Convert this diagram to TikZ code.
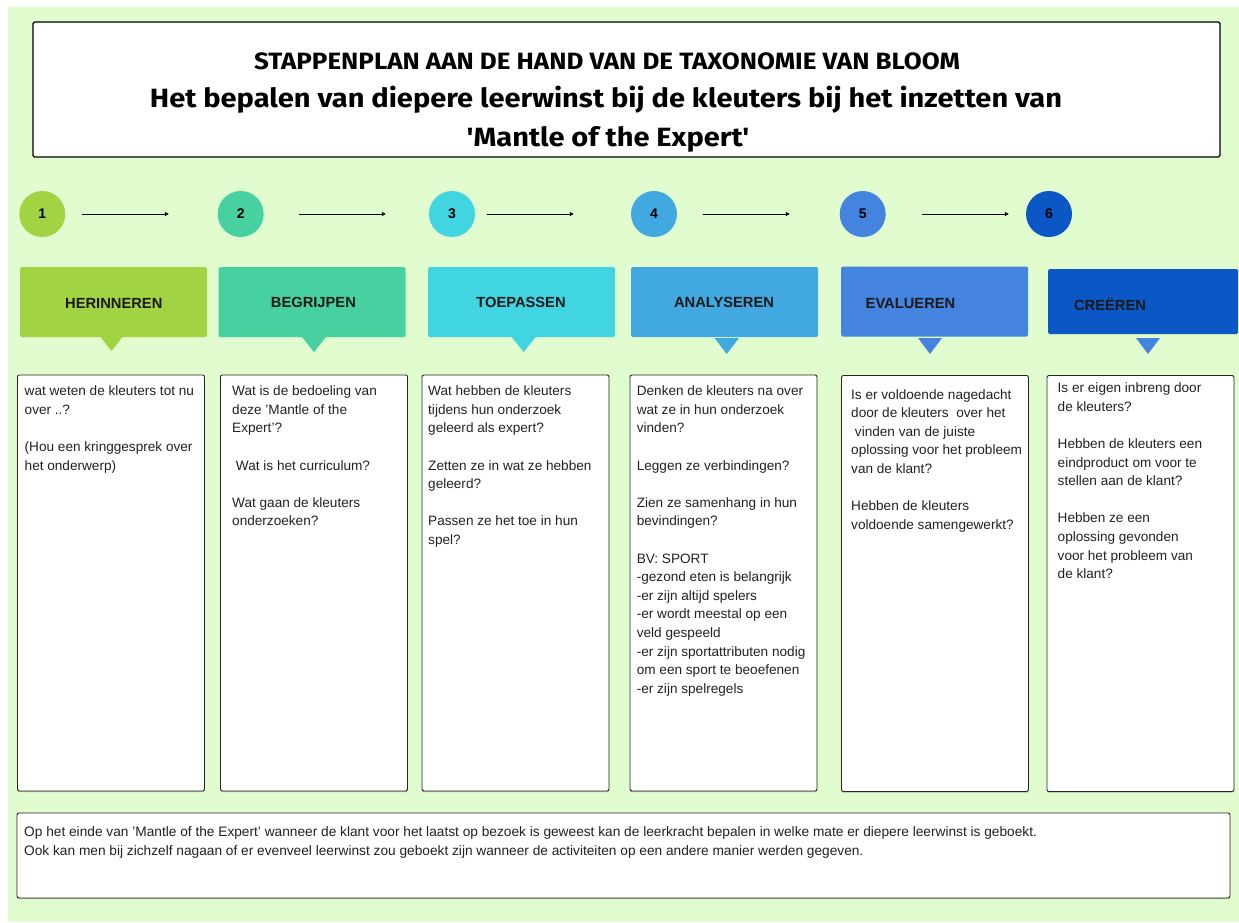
\documentclass[tikz,border=0pt]{standalone}
\usepackage{fontspec}
\setmainfont{Liberation Sans}
\newfontfamily\titlefont[FakeStretch=1.1]{Fira Sans}
\usepackage{xcolor}
\usetikzlibrary{arrows.meta}
\usetikzlibrary{shadows}
\definecolor{bgGreen}{HTML}{E1FCCE}
\definecolor{stepA}{HTML}{A1D343}
\definecolor{stepB}{HTML}{47D1A1}
\definecolor{stepC}{HTML}{41D4E1}
\definecolor{stepD}{HTML}{41A8E0}
\definecolor{stepE}{HTML}{4484DF}
\definecolor{stepF}{HTML}{0B57C5}
\definecolor{boxText}{HTML}{222222}

\begin{document}
\begin{tikzpicture}[x=1pt,y=1pt,yscale=-1,xscale=1,
  stepnum/.style={circle,minimum size=46pt,inner sep=0pt,font=\fontsize{14}{14}\selectfont\bfseries},
  banner/.style={rounded corners=1.5pt,minimum width=187pt,minimum height=70pt,inner sep=0pt},
  bannerlabel/.style={inner sep=0pt,font=\fontsize{14.7}{15}\selectfont\bfseries,text=black!90},
  qbox/.style={draw=black!85,fill=white,rounded corners=2pt,line width=0.9pt,minimum width=187pt,minimum height=416pt,inner sep=0pt,
    drop shadow={shadow xshift=0pt,shadow yshift=-1.2pt,fill=black,opacity=0.25}},
  qtext/.style={anchor=north west,inner sep=0pt,align=left,text=boxText,font=\fontsize{13.6}{18.6}\selectfont},
  flow/.style={line width=1pt,-{Triangle[length=4pt,width=4pt]}}]
\useasboundingbox (0,0) rectangle (1239,922);
\fill[white] (0,0) rectangle (1239,922);
%Shape: Background
\fill[bgGreen] (8,7) rectangle (1239,922);

%Shape: Title box
\node[draw=black,fill=white,line width=1.2pt,rounded corners=1.5pt,minimum width=1187pt,minimum height=135pt,inner sep=0pt] (titlebox) at (626.5,89.5) {};
% Text Node
\node[anchor=base,inner sep=0pt,font=\titlefont\bfseries\fontsize{23.6}{24}\selectfont] (title1) at (607,69) {STAPPENPLAN AAN DE HAND VAN DE TAXONOMIE VAN BLOOM};
% Text Node
\node[anchor=base,inner sep=0pt,font=\titlefont\bfseries\fontsize{26.4}{27}\selectfont] (title2) at (606,107) {Het bepalen van diepere leerwinst bij de kleuters bij het inzetten van};
% Text Node
\node[anchor=base,inner sep=0pt,font=\titlefont\bfseries\fontsize{26.4}{27}\selectfont] (title3) at (608,146) {'Mantle of the Expert'};

%Shape: Circles
\node[stepnum,fill=stepA] (c1) at (42.3,214) {1};
\node[stepnum,fill=stepB] (c2) at (240.7,214) {2};
\node[stepnum,fill=stepC] (c3) at (452,214) {3};
\node[stepnum,fill=stepD] (c4) at (654,214) {4};
\node[stepnum,fill=stepE] (c5) at (862.7,214) {5};
\node[stepnum,fill=stepF] (c6) at (1049,214) {6};

%Straight Lines
\draw[flow,shorten <=16.7pt,shorten >=48.7pt] (c1) -- (c2);
\draw[flow,shorten <=35.3pt,shorten >=43pt] (c2) -- (c3);
\draw[flow,shorten <=12pt,shorten >=57pt] (c3) -- (c4);
\draw[flow,shorten <=26pt,shorten >=49.7pt] (c4) -- (c5);
\draw[flow,shorten <=36pt,shorten >=17pt] (c5) -- (c6);

%Shape: Banners
\node[banner,fill=stepA] (ban1) at (113.5,302) {};
\node[banner,fill=stepB] (ban2) at (312,302) {};
\node[banner,fill=stepC] (ban3) at (521.5,302) {};
\node[banner,fill=stepD] (ban4) at (724.5,302) {};
\node[banner,fill=stepE] (ban5) at (934.5,301.5) {};
\node[banner,fill=stepF,minimum height=65pt,minimum width=190pt] (ban6) at (1143,301.5) {};
%Shape: Pointers
\fill[stepA] (100.5,337) -- (122.5,337) -- (111.5,351) -- cycle;
\fill[stepB] (302,337) -- (326,337) -- (314,352) -- cycle;
\fill[stepC] (511.7,337) -- (535.7,337) -- (523.7,352) -- cycle;
\fill[stepD] (714.5,338) -- (739,338) -- (726.7,354) -- cycle;
\fill[stepE] (918,338) -- (942,338) -- (930,354) -- cycle;
\fill[stepE] (1136,338) -- (1160,338) -- (1148,354) -- cycle;
% Text Node
\node[bannerlabel] (lab1) at (113.8,303) {HERINNEREN};
\node[bannerlabel] (lab2) at (313.4,302) {BEGRIJPEN};
\node[bannerlabel] (lab3) at (521,302) {TOEPASSEN};
\node[bannerlabel] (lab4) at (724,302) {ANALYSEREN};
\node[bannerlabel] (lab5) at (910.5,304) {EVALUEREN};
\node[bannerlabel] (lab6) at (1110,304) {CREËREN};

%Shape: Question boxes
\node[qbox] (box1) at (111,583) {};
\node[qbox] (box2) at (314,583) {};
\node[qbox] (box3) at (515.5,583) {};
\node[qbox] (box4) at (723.5,583) {};
\node[qbox] (box5) at (935,583.5) {};
\node[qbox] (box6) at (1140.5,583.5) {};

% Text Node
\node[qtext] (q1) at (24.5,385.6) {wat weten de kleuters tot nu\\over ..?\\[18.6pt](Hou een kringgesprek over\\het onderwerp)};
% Text Node
\node[qtext] (q2) at (232,385.6) {Wat is de bedoeling van\\deze 'Mantle of the\\Expert'?\\[18.6pt]\ Wat is het curriculum?\\[18.6pt]Wat gaan de kleuters\\onderzoeken?};
% Text Node
\node[qtext] (q3) at (428,385.6) {Wat hebben de kleuters\\tijdens hun onderzoek\\geleerd als expert?\\[18.6pt]Zetten ze in wat ze hebben\\geleerd?\\[18.6pt]Passen ze het toe in hun\\spel?};
% Text Node
\node[qtext] (q4) at (636.6,385.6) {Denken de kleuters na over\\wat ze in hun onderzoek\\vinden?\\[18.6pt]Leggen ze verbindingen?\\[18.6pt]Zien ze samenhang in hun\\bevindingen?\\[18.6pt]BV: SPORT\\-gezond eten is belangrijk\\-er zijn altijd spelers\\-er wordt meestal op een\\veld gespeeld\\-er zijn sportattributen nodig\\om een sport te beoefenen\\-er zijn spelregels};
% Text Node
\node[qtext] (q5) at (851,389) {Is er voldoende nagedacht\\door de kleuters\ \ over het\\\ vinden van de juiste\\oplossing voor het probleem\\van de klant?\\[18.6pt]Hebben de kleuters\\voldoende samengewerkt?};
% Text Node
\node[qtext] (q6) at (1057.5,382.6) {Is er eigen inbreng door\\de kleuters?\\[18.6pt]Hebben de kleuters een\\eindproduct om voor te\\stellen aan de klant?\\[18.6pt]Hebben ze een\\oplossing gevonden\\voor het probleem van\\de klant?};

%Shape: Bottom box
\node[draw=black!85,fill=white,rounded corners=2pt,line width=0.9pt,minimum width=1213pt,minimum height=85pt,inner sep=0pt,
  drop shadow={shadow xshift=0pt,shadow yshift=-1.2pt,fill=black,opacity=0.25}] (endbox) at (623.5,855.5) {};
% Text Node
\node[anchor=north west,inner sep=0pt,align=left,text=boxText,font=\fontsize{13.7}{19}\selectfont] (endtext) at (24,826) {Op het einde van 'Mantle of the Expert' wanneer de klant voor het laatst op bezoek is geweest kan de leerkracht bepalen in welke mate er diepere leerwinst is geboekt.\\Ook kan men bij zichzelf nagaan of er evenveel leerwinst zou geboekt zijn wanneer de activiteiten op een andere manier werden gegeven.};

\end{tikzpicture}
\end{document}
